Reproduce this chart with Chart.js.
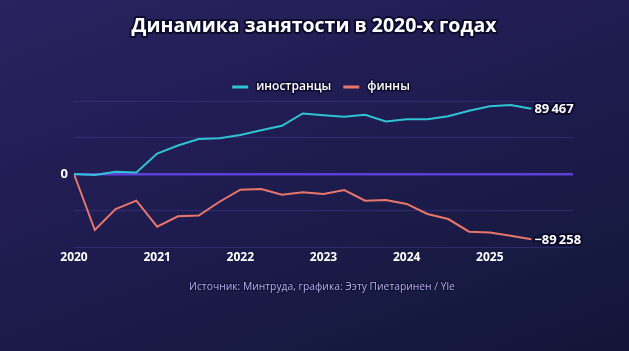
<!DOCTYPE html>
<html><head><meta charset="utf-8">
<script src="https://cdn.jsdelivr.net/npm/chart.js@4"></script>
<style>
html,body{margin:0;padding:0;width:629px;height:351px;overflow:hidden;}
body{background:linear-gradient(160deg,#29235f 0%,#1f1c50 45%,#171a42 75%,#131638 100%);}
#wrap{position:relative;width:629px;height:351px;}
</style></head>
<body><div id="wrap"><canvas id="c" width="629" height="351"></canvas></div>
<script>
const titleText = "Динамика занятости в 2020-х годах";
const sourceText = "Источник: Минтруда, графика: Ээту Пиетаринен / Yle";
const seriesNames = ["иностранцы", "финны"];
// quarterly points, 2020 Q1 … 2025 Q3 (index 0 … 22)
const quarters = ["2020Q1","2020Q2","2020Q3","2020Q4","2021Q1","2021Q2","2021Q3","2021Q4",
  "2022Q1","2022Q2","2022Q3","2022Q4","2023Q1","2023Q2","2023Q3","2023Q4",
  "2024Q1","2024Q2","2024Q3","2024Q4","2025Q1","2025Q2","2025Q3"];
const foreigners = [0,-1500,3000,2000,28000,39000,48000,49000,53500,60000,66000,83000,
  80500,78500,81000,72000,75000,75000,79000,86700,92700,94500,89467];
const finns = [0,-76700,-48000,-36500,-72200,-58000,-57000,-38000,-21500,-20500,-28300,-25000,
  -27400,-22000,-36500,-35700,-41000,-54800,-61700,-79000,-80000,-84500,-89258];
const yearLabels = ["2020","2021","2022","2023","2024","2025"];
const yTickValues = [-100000,-50000,0,50000,100000];

const TEAL = "#2fc3d4", RED = "#e9766a";

function fmt(v){
  const s = Math.abs(v).toString().replace(/\B(?=(\d{3})+(?!\d))/g, "\u2009");
  return (v<0?"\u2212":"") + s;
}

function outlinedText(ctx, text, x, y, fill, stroke, lw){
  ctx.lineJoin = "round";
  ctx.strokeStyle = stroke; ctx.lineWidth = lw;
  ctx.strokeText(text, x, y);
  ctx.fillStyle = fill;
  ctx.fillText(text, x, y);
}

const decor = {
  id: "decor",
  afterDraw(chart){
    const ctx = chart.ctx;
    ctx.save();
    ctx.textBaseline = "middle";
    // title
    ctx.font = 'bold 19.5px "Open Sans"';
    ctx.textAlign = "center";
    outlinedText(ctx, titleText, 314, 26, "#ffffff", "rgba(10,8,40,0.85)", 4);
    // legend
    ctx.font = '600 12px "Open Sans"';
    ctx.textAlign = "left";
    const colors = [TEAL, RED];
    const lineW = 16, gap = 8, itemGap = 12;
    let widths = seriesNames.map(n => lineW + gap + ctx.measureText(n).width);
    let total = widths.reduce((a,b)=>a+b,0) + itemGap;
    let x = 321 - total/2;
    const ly = 87;
    seriesNames.forEach((n,i)=>{
      ctx.strokeStyle = colors[i]; ctx.lineWidth = 3; ctx.lineCap = "butt";
      ctx.beginPath(); ctx.moveTo(x, ly); ctx.lineTo(x+lineW, ly); ctx.stroke();
      outlinedText(ctx, n, x+lineW+gap, ly, "#ffffff", "rgba(10,8,40,0.8)", 3);
      x += widths[i] + itemGap;
    });
    // end labels
    ctx.font = 'bold 13px "Open Sans"';
    chart.data.datasets.forEach((ds, i)=>{
      const meta = chart.getDatasetMeta(i);
      const pt = meta.data[meta.data.length-1];
      const v = ds.data[ds.data.length-1].y;
      outlinedText(ctx, fmt(v), pt.x + 3, pt.y + 1, "#ffffff", "rgba(10,8,40,0.9)", 4);
    });
    // source
    ctx.font = '10.3px "Open Sans"';
    ctx.textAlign = "center";
    outlinedText(ctx, sourceText, 322, 287, "#b9aef0", "rgba(10,8,40,0.6)", 2);
    ctx.restore();
  }
};

new Chart(document.getElementById("c"), {
  type: "line",
  data: {
    datasets: [
      { label: seriesNames[0], data: foreigners.map((v,i)=>({x:i, y:v})),
        borderColor: TEAL, borderWidth: 2, pointRadius: 0, tension: 0 },
      { label: seriesNames[1], data: finns.map((v,i)=>({x:i, y:v})),
        borderColor: RED, borderWidth: 2, pointRadius: 0, tension: 0 }
    ]
  },
  options: {
    responsive: false, animation: false,
    layout: { padding: { left: 44, right: 56, top: 101, bottom: 74 } },
    plugins: { legend: { display: false }, title: { display: false }, tooltip: { enabled: false } },
    scales: {
      x: {
        type: "linear", min: 0, max: 24,
        afterFit(a){ a.height = 30; },
        grid: { display: false, drawTicks: false }, border: { display: false },
        ticks: {
          stepSize: 4, padding: 3, maxRotation: 0, autoSkip: false,
          color: "#ffffff", font: { family: "Open Sans", weight: "bold", size: 12 },
          callback: (v)=> (v % 4 === 0 && yearLabels[v/4]) ? yearLabels[v/4] : ""
        }
      },
      y: {
        min: -100000, max: 100000,
        afterFit(a){ a.width = 30; },
        afterBuildTicks(a){ a.ticks = yTickValues.map(v=>({value:v})); },
        border: { display: false },
        grid: {
          drawTicks: false,
          color: (c)=> c.tick && c.tick.value === 0 ? "#5a3fd8" : "rgba(95,80,210,0.3)",
          lineWidth: (c)=> c.tick && c.tick.value === 0 ? 2.5 : 1
        },
        ticks: {
          padding: 6, color: "#ffffff", font: { family: "Open Sans", weight: "bold", size: 13 },
          callback: (v)=> v === 0 ? "0" : ""
        }
      }
    }
  },
  plugins: [decor]
});
</script></body></html>
